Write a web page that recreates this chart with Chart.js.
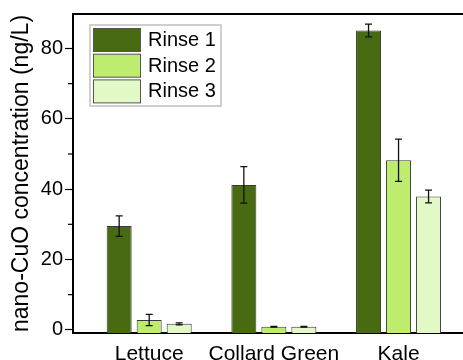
<!DOCTYPE html>
<html>
<head>
<meta charset="utf-8">
<script src="https://cdn.jsdelivr.net/npm/chart.js@4/dist/chart.umd.min.js"></script>
<style>
  html, body { margin: 0; padding: 0; background: #fff; overflow: hidden; }
  #wrap { width: 463px; height: 360px; }
</style>
</head>
<body>
<div id="wrap"><canvas id="cuoChart" width="463" height="360"></canvas></div>
<script>
// categories sit at x = 1, 2, 3 on a linear axis
var categories = ['Lettuce', 'Collard Green', 'Kale']
var seriesNames = ['Rinse 1', 'Rinse 2', 'Rinse 3']
var rinse1 = [29.5, 41.2, 85.1]
var rinse2 = [2.8, 0.9, 48.2]
var rinse3 = [1.7, 0.9, 37.9]
var rinse1Err = [2.9, 5.2, 1.8]
var rinse2Err = [1.6, 0.1, 6.0]
var rinse3Err = [0.3, 0.1, 1.8]
var yMajorTicks = [0, 20, 40, 60, 80]
var yMinorTicks = [10, 30, 50, 70]
var yMin = -0.9
var yMax = 89.8

var colors = ['#486a10', '#bdec6f', '#e2f8c6']
var font = 'Liberation Sans, Arial, sans-serif'

function toPoints(vals) {
    return vals.map(function (v, i) { return { x: i + 1, y: v } })
}

var errorBars = {
    id: 'errorBars',
    afterDatasetsDraw: function (chart) {
        var ctx = chart.ctx
        var y = chart.scales.y
        ctx.save()
        ctx.strokeStyle = '#111'
        ctx.lineWidth = 1.3
        chart.data.datasets.forEach(function (ds, di) {
            var meta = chart.getDatasetMeta(di)
            meta.data.forEach(function (bar, i) {
                var v = ds.data[i].y
                var e = ds.errors[i]
                var top = y.getPixelForValue(v + e)
                var bot = y.getPixelForValue(v - e)
                ctx.beginPath()
                ctx.moveTo(bar.x, top); ctx.lineTo(bar.x, bot)
                ctx.moveTo(bar.x - 3.5, top); ctx.lineTo(bar.x + 3.5, top)
                ctx.moveTo(bar.x - 3.5, bot); ctx.lineTo(bar.x + 3.5, bot)
                ctx.stroke()
            })
        })
        ctx.restore()
    }
}

var frameAndLegend = {
    id: 'frameAndLegend',
    afterDraw: function (chart) {
        var ctx = chart.ctx
        var area = chart.chartArea
        var y = chart.scales.y
        ctx.save()
        // top frame line
        ctx.strokeStyle = '#000'
        ctx.lineWidth = 2
        ctx.beginPath()
        ctx.moveTo(area.left - 1, area.top)
        ctx.lineTo(area.right, area.top)
        ctx.stroke()
        // minor ticks
        ctx.lineWidth = 1.2
        yMinorTicks.forEach(function (t) {
            var py = y.getPixelForValue(t)
            ctx.beginPath()
            ctx.moveTo(area.left - 5, py)
            ctx.lineTo(area.left, py)
            ctx.stroke()
        })
        // legend box
        var lx = area.left + 17, ly = area.top + 11
        ctx.fillStyle = '#fff'
        ctx.fillRect(lx, ly, 131, 81)
        ctx.strokeStyle = '#c0c0c0'
        ctx.lineWidth = 1.5
        ctx.strokeRect(lx, ly, 131, 81)
        ctx.font = '20px ' + font
        ctx.textBaseline = 'middle'
        chart.data.datasets.forEach(function (ds, i) {
            var sy = ly + 3.5 + i * 25.7
            ctx.fillStyle = ds.backgroundColor
            ctx.fillRect(lx + 3.5, sy, 47, 23)
            ctx.strokeStyle = '#555'
            ctx.lineWidth = 1
            ctx.strokeRect(lx + 3.5, sy, 47, 23)
            ctx.fillStyle = '#000'
            ctx.fillText(ds.label, lx + 58, sy + 12)
        })
        ctx.restore()
    }
}

var datasets = [rinse1, rinse2, rinse3].map(function (vals, i) {
    return {
        label: seriesNames[i],
        data: toPoints(vals),
        errors: [rinse1Err, rinse2Err, rinse3Err][i],
        backgroundColor: colors[i],
        borderColor: '#3a3a3a',
        borderWidth: 1,
        base: yMin,
        categoryPercentage: 0.722,
        barPercentage: 0.833
    }
})

const cChart = document.getElementById('cuoChart').getContext('2d')

const cuoChart = new Chart(cChart, {
    type: 'bar',
    data: { datasets: datasets },
    plugins: [errorBars, frameAndLegend],
    options: {
        responsive: false,
        animation: false,
        layout: { padding: { top: 12, right: 0, left: 0, bottom: 0 } },
        plugins: {
            legend: { display: false },
            tooltip: { enabled: false }
        },
        scales: {
            x: {
                type: 'linear',
                offset: false,
                bounds: 'data',
                min: 0.389,
                max: 3.517,
                afterBuildTicks: function (scale) {
                    scale.ticks = categories.map(function (c, i) { return { value: i + 1 } })
                },
                afterFit: function (scale) { scale.height = 27 },
                grid: { display: true, offset: false, drawOnChartArea: false, drawTicks: false },
                border: { display: true, color: '#000', width: 2 },
                ticks: {
                    padding: 9,
                    color: '#000',
                    font: { family: font, size: 21 },
                    maxRotation: 0,
                    autoSkip: false,
                    callback: function (v) { return categories[v - 1] || '' }
                }
            },
            y: {
                min: yMin,
                max: yMax,
                afterBuildTicks: function (scale) {
                    scale.ticks = yMajorTicks.map(function (v) { return { value: v } })
                },
                afterFit: function (scale) { scale.width = 73 },
                grid: { drawOnChartArea: false, drawTicks: true, tickLength: 8, tickColor: '#000', tickWidth: 1.2 },
                border: { display: true, color: '#000', width: 2 },
                ticks: {
                    padding: 2,
                    color: '#000',
                    font: { family: font, size: 20 }
                },
                title: {
                    display: true,
                    text: 'nano-CuO concentration (ng/L)',
                    color: '#000',
                    font: { family: font, size: 23 },
                    padding: { top: 8, bottom: 0 }
                }
            }
        }
    }
})
</script>
</body>
</html>
